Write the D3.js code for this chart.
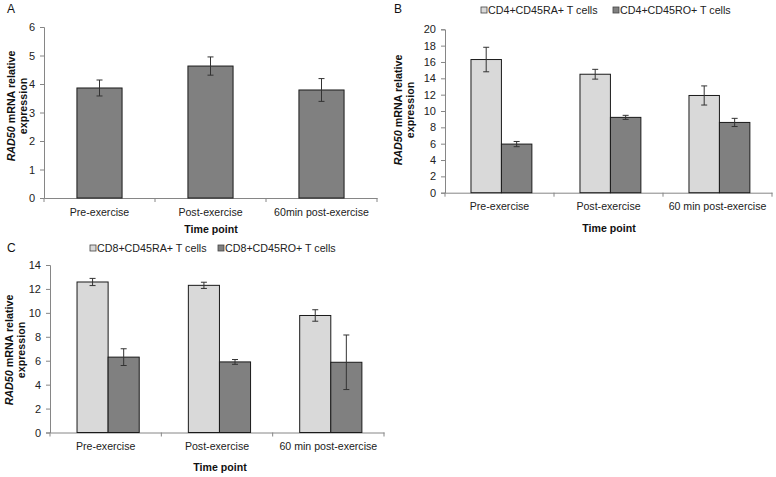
<!DOCTYPE html>
<html><head><meta charset="utf-8">
<script src="https://cdn.jsdelivr.net/npm/d3@7"></script>
<style>body{margin:0;background:#fff}svg{display:block;font-family:"Liberation Sans",Arial,sans-serif}</style>
</head><body><svg id="c" width="776" height="477"></svg>
<script>
// ---- data ----
const catsA = ["Pre-exercise", "Post-exercise", "60min post-exercise"];
const catsBC = ["Pre-exercise", "Post-exercise", "60 min post-exercise"];
const seriesA = ["RAD50"];
const valuesA = [[3.86, 4.63, 3.79]];
const errorsA = [[0.28, 0.32, 0.40]];
const seriesB = ["CD4+CD45RA+ T cells", "CD4+CD45RO+ T cells"];
const valuesB = [[16.3, 14.5, 11.9], [5.95, 9.22, 8.6]];
const errorsB = [[1.5, 0.6, 1.17], [0.32, 0.25, 0.5]];
const seriesC = ["CD8+CD45RA+ T cells", "CD8+CD45RO+ T cells"];
const valuesC = [[12.58, 12.3, 9.78], [6.3, 5.9, 5.87]];
const errorsC = [[0.3, 0.26, 0.48], [0.7, 0.2, 2.28]];
const ticksA = [0, 1, 2, 3, 4, 5, 6];
const ticksB = [0, 2, 4, 6, 8, 10, 12, 14, 16, 18, 20];
const ticksC = [0, 2, 4, 6, 8, 10, 12, 14];
const xTitle = "Time point";

const svg = d3.select("#c");
const AXIS = "#868686";

function panel(o) {
  const g = svg.append("g");
  const x = d3.scaleBand().domain(o.cats).range([o.x0, o.x1]).padding(0);
  const xs = d3.scaleBand().domain(o.series).range([0, x.bandwidth()])
    .paddingInner(0).paddingOuter(o.pad).align(o.align);
  const y = d3.scaleLinear().domain([0, o.max]).range([o.yb, o.yt]);

  // y axis
  const ya = g.append("g").attr("transform", `translate(${o.x0},0)`)
    .call(d3.axisLeft(y).tickValues(o.ticks).tickSize(4).tickPadding(5).tickFormat(d3.format("d")));
  ya.select(".domain").attr("stroke", AXIS);
  ya.selectAll(".tick line").attr("stroke", AXIS);
  ya.selectAll("text").attr("font-size", 11).attr("fill", "#222")
    .attr("font-family", '"Liberation Sans",Arial,sans-serif');

  // x axis
  const xa = g.append("g").attr("transform", `translate(0,${o.yb})`)
    .call(d3.axisBottom(x).tickSize(0).tickPadding(10));
  xa.select(".domain").attr("stroke", AXIS);
  xa.selectAll("text").attr("font-size", 10.6).attr("fill", "#222")
    .attr("font-family", '"Liberation Sans",Arial,sans-serif');
  // boundary ticks between categories
  const bounds = o.cats.map(c => x(c)).concat([o.x1]);
  g.selectAll("line.bt").data(bounds).join("line")
    .attr("x1", d => d).attr("x2", d => d)
    .attr("y1", o.yb).attr("y2", o.yb + 4).attr("stroke", AXIS);

  // bars
  o.series.forEach((s, si) => {
    o.cats.forEach((c, ci) => {
      const v = o.values[si][ci], e = o.errors[si][ci];
      const bx = x(c) + xs(s);
      g.append("rect").attr("x", bx).attr("y", y(v))
        .attr("width", xs.bandwidth()).attr("height", y(0) - y(v))
        .attr("fill", o.colors[si]).attr("stroke", "#1a1a1a").attr("stroke-width", 1);
      const cx = bx + xs.bandwidth() / 2;
      g.append("line").attr("x1", cx).attr("x2", cx).attr("y1", y(v + e)).attr("y2", y(v - e))
        .attr("stroke", "#333").attr("stroke-width", 1);
      [v + e, v - e].forEach(t => g.append("line").attr("x1", cx - 3).attr("x2", cx + 3)
        .attr("y1", y(t)).attr("y2", y(t)).attr("stroke", "#333").attr("stroke-width", 1));
    });
  });

  // x title
  g.append("text").attr("x", o.titleX).attr("y", o.titleY).attr("text-anchor", "middle")
    .attr("font-weight", "bold").attr("font-size", 10.6).attr("fill", "#111").text(xTitle);

  // y title
  const yt = g.append("text").attr("transform", `translate(${o.ylx},${o.yly}) rotate(-90)`)
    .attr("text-anchor", "middle").attr("font-weight", "bold").attr("font-size", 10.7).attr("fill", "#111");
  const t1 = yt.append("tspan").attr("x", 0).attr("dy", 0);
  t1.append("tspan").attr("font-style", "italic").text("RAD50");
  t1.append("tspan").text(" mRNA relative");
  yt.append("tspan").attr("x", 0).attr("dy", 12).text("expression");

  // panel letter
  g.append("text").attr("x", o.lx).attr("y", o.ly).attr("font-size", 12).attr("fill", "#111").text(o.letter);

  // legend
  if (o.legend) {
    o.series.forEach((s, si) => {
      const lx = o.legend[si];
      g.append("rect").attr("x", lx).attr("y", o.legY - 3).attr("width", 6).attr("height", 6)
        .attr("fill", o.colors[si]).attr("stroke", "#444").attr("stroke-width", 0.8);
      g.append("text").attr("x", lx + 7).attr("y", o.legY + 4).attr("font-size", 10.7)
        .attr("fill", "#222").text(s);
    });
  }
}

panel({cats: catsA, series: seriesA, values: valuesA, errors: errorsA, colors: ["#808080"],
  x0: 44, x1: 377, yb: 198, yt: 27, max: 6, ticks: ticksA, pad: 0.73, align: 0.5,
  titleX: 211, titleY: 233, ylx: 15, yly: 106, letter: "A", lx: 7, ly: 13});

panel({cats: catsBC, series: seriesB, values: valuesB, errors: errorsB, colors: ["#d9d9d9", "#808080"],
  x0: 445, x1: 772, yb: 192.7, yt: 29.3, max: 20, ticks: ticksB, pad: 0.79, align: 0.54,
  titleX: 609, titleY: 232, ylx: 402, yly: 110, letter: "B", lx: 394, ly: 13,
  legend: [481, 613], legY: 10});

panel({cats: catsBC, series: seriesC, values: valuesC, errors: errorsC, colors: ["#d9d9d9", "#808080"],
  x0: 50, x1: 384, yb: 432.5, yt: 265, max: 14, ticks: ticksC, pad: 0.79, align: 0.55,
  titleX: 220, titleY: 471, ylx: 13, yly: 350, letter: "C", lx: 7, ly: 252,
  legend: [90, 218], legY: 248});
</script></body></html>
